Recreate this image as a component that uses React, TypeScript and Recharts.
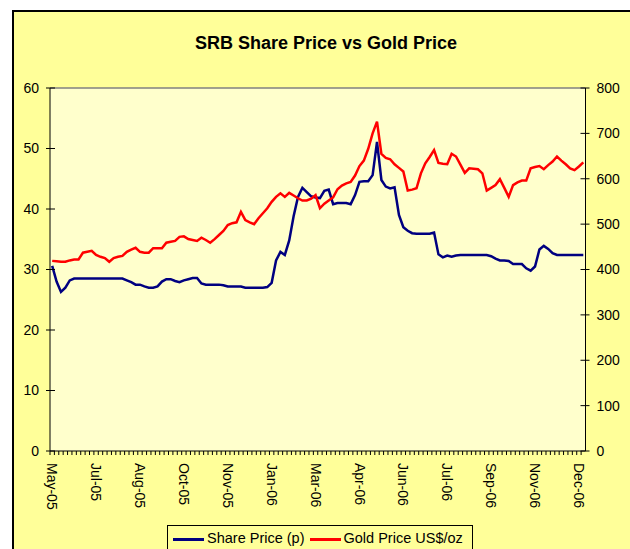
import React from 'react';
import { LineChart, Line, XAxis, YAxis, CartesianGrid, ReferenceLine } from 'recharts';

const TICK_LABELS = [
  'May-05', 'Jul-05', 'Aug-05', 'Oct-05', 'Nov-05', 'Jan-06', 'Mar-06',
  'Apr-06', 'Jun-06', 'Jul-06', 'Sep-06', 'Nov-06', 'Dec-06',
];

// share price (p), left axis
const SHARE = [
  30.6, 28.0, 26.3, 27.0, 28.2, 28.5, 28.5, 28.5, 28.5, 28.5,
  28.5, 28.5, 28.5, 28.5, 28.5, 28.5, 28.5, 28.2, 27.9, 27.5,
  27.5, 27.2, 27.0, 27.0, 27.2, 28.0, 28.4, 28.4, 28.1, 27.9,
  28.2, 28.4, 28.6, 28.6, 27.7, 27.5, 27.5, 27.5, 27.5, 27.4,
  27.2, 27.2, 27.2, 27.2, 27.0, 27.0, 27.0, 27.0, 27.0, 27.1,
  27.8, 31.5, 32.9, 32.4, 34.8, 38.8, 42.0, 43.5, 42.8, 42.1,
  41.9, 41.8, 43.0, 43.2, 40.8, 41.0, 41.0, 41.0, 40.8, 42.3,
  44.5, 44.6, 44.6, 45.6, 51.1, 44.8, 43.7, 43.4, 43.6, 39.0,
  37.0, 36.4, 36.0, 35.9, 35.9, 35.9, 35.9, 36.1, 32.5, 32.0,
  32.3, 32.1, 32.3, 32.4, 32.4, 32.4, 32.4, 32.4, 32.4, 32.4,
  32.2, 31.8, 31.5, 31.5, 31.4, 30.9, 30.9, 30.9, 30.2, 29.8,
  30.5, 33.3, 33.9, 33.4, 32.7, 32.4, 32.4, 32.4, 32.4, 32.4,
  32.4, 32.4,
];

// gold price US$/oz, right axis
const GOLD = [
  419, 418, 417, 417, 420, 422, 422, 437, 439, 441,
  432, 428, 425, 417, 425, 428, 430, 439, 444, 448,
  439, 437, 437, 447, 447, 447, 459, 461, 463, 472,
  473, 467, 465, 463, 470, 465, 459, 467, 476, 485,
  498, 502, 504, 527, 509, 504, 500, 513, 524, 535,
  549, 560, 568, 560, 569, 563, 557, 552, 552, 556,
  564, 535, 545, 552, 559, 577, 585, 590, 593, 607,
  628, 640, 666, 700, 726, 655, 646, 643, 632, 624,
  616, 574, 576, 579, 612, 634, 648, 663, 635, 633,
  632, 655, 649, 631, 613, 623, 622, 621, 612, 574,
  580, 586, 599, 580, 560, 586, 592, 596, 596, 623,
  626, 628, 621, 630, 638, 649, 640, 632, 623, 619,
  627, 636,
];

const LEFT_TICKS = [0, 10, 20, 30, 40, 50, 60];
const RIGHT_TICKS = [0, 100, 200, 300, 400, 500, 600, 700, 800];

const data = SHARE.map((s, i) => ({ i, share: s, gold: GOLD[i] }));

const FONT = '"Liberation Sans", Arial, sans-serif';
const CAT_W = 535.5 / SHARE.length;

const XTick = (props: any) => {
  const { x, y, payload } = props;
  const i = payload.value;
  const label = i % 10 === 0 ? TICK_LABELS[i / 10] : null;
  return (
    <g>
      <line x1={x - CAT_W / 2} x2={x - CAT_W / 2} y1={y} y2={y + 4} stroke="#000" strokeWidth={1} />
      {label && (
        <text
          x={x}
          y={y + 12}
          transform={`rotate(90, ${x}, ${y + 12})`}
          dy="0.35em"
          textAnchor="start"
          fontSize={14}
          fontFamily={FONT}
          fill="#000"
        >
          {label}
        </text>
      )}
    </g>
  );
};

const LeftTick = (props: any) => {
  const { x, y, payload } = props;
  return (
    <g>
      <line x1={x - 4} x2={x + 5} y1={y} y2={y} stroke="#000" strokeWidth={1} />
      <text x={x - 11} y={y} dy="0.35em" textAnchor="end" fontSize={14} fontFamily={FONT} fill="#000">
        {payload.value}
      </text>
    </g>
  );
};

const RightTick = (props: any) => {
  const { x, y, payload } = props;
  return (
    <g>
      <line x1={x - 5} x2={x + 4} y1={y} y2={y} stroke="#000" strokeWidth={1} />
      <text x={x + 11} y={y} dy="0.35em" textAnchor="start" fontSize={14} fontFamily={FONT} fill="#000">
        {payload.value}
      </text>
    </g>
  );
};

export default function App() {
  return (
    <div
      style={{
        position: 'absolute',
        left: 0,
        top: 0,
        width: 630,
        height: 549,
        background: '#fff',
        overflow: 'hidden',
        fontFamily: FONT,
      }}
    >
      {/* chart area */}
      <div
        style={{
          position: 'absolute',
          left: 12,
          top: 10,
          width: 680,
          height: 600,
          background: '#FFFF99',
          border: '2px solid #000',
          boxSizing: 'border-box',
        }}
      />
      <div
        style={{
          position: 'absolute',
          left: 0,
          width: 652,
          top: 33,
          textAlign: 'center',
          fontWeight: 'bold',
          fontSize: 18,
          color: '#000',
        }}
      >
        SRB Share Price vs Gold Price
      </div>

      <div style={{ position: 'absolute', left: 0, top: 0 }}>
        <LineChart width={630} height={549} data={data} margin={{ top: 88, right: 0, bottom: 0, left: 10 }}>
          <CartesianGrid yAxisId="left" fill="#FFFFCC" horizontal={false} vertical={false} />
          <XAxis
            dataKey="i"
            type="category"
            interval={0}
            height={98}
            padding={{ left: CAT_W / 2, right: CAT_W / 2 }}
            tickSize={0}
            tickMargin={0}
            tickLine={false}
            axisLine={{ stroke: '#000', strokeWidth: 1 }}
            tick={<XTick />}
          />
          <YAxis
            yAxisId="left"
            orientation="left"
            width={40}
            domain={[0, 60]}
            ticks={LEFT_TICKS}
            interval={0}
            tickSize={0}
            tickMargin={0}
            tickLine={false}
            axisLine={{ stroke: '#000', strokeWidth: 1 }}
            tick={<LeftTick />}
          />
          <YAxis
            yAxisId="right"
            orientation="right"
            width={44.5}
            domain={[0, 800]}
            ticks={RIGHT_TICKS}
            interval={0}
            tickSize={0}
            tickMargin={0}
            tickLine={false}
            axisLine={{ stroke: '#000', strokeWidth: 1 }}
            tick={<RightTick />}
          />
          <ReferenceLine yAxisId="left" y={60} stroke="#808080" strokeWidth={1.5} />
          <Line
            yAxisId="left"
            dataKey="share"
            type="linear"
            stroke="#000080"
            strokeWidth={2.5}
            dot={false}
            isAnimationActive={false}
          />
          <Line
            yAxisId="right"
            dataKey="gold"
            type="linear"
            stroke="#FF0000"
            strokeWidth={2.5}
            dot={false}
            isAnimationActive={false}
          />
        </LineChart>
      </div>

      {/* legend */}
      <div
        style={{
          position: 'absolute',
          left: 167,
          top: 525,
          width: 306,
          height: 40,
          border: '1px solid #000',
          boxSizing: 'border-box',
          background: '#FFFF99',
          display: 'flex',
          alignItems: 'flex-start',
          paddingTop: 4,
          paddingLeft: 5,
          fontSize: 14.5,
          color: '#000',
          whiteSpace: 'nowrap',
        }}
      >
        <span style={{ display: 'inline-block', width: 31, height: 2.5, background: '#000080', marginTop: 8, marginRight: 3 }} />
        <span>Share Price (p)</span>
        <span style={{ display: 'inline-block', width: 31, height: 2.5, background: '#FF0000', marginTop: 8, marginLeft: 5, marginRight: 3 }} />
        <span>Gold Price US$/oz</span>
      </div>
    </div>
  );
}
